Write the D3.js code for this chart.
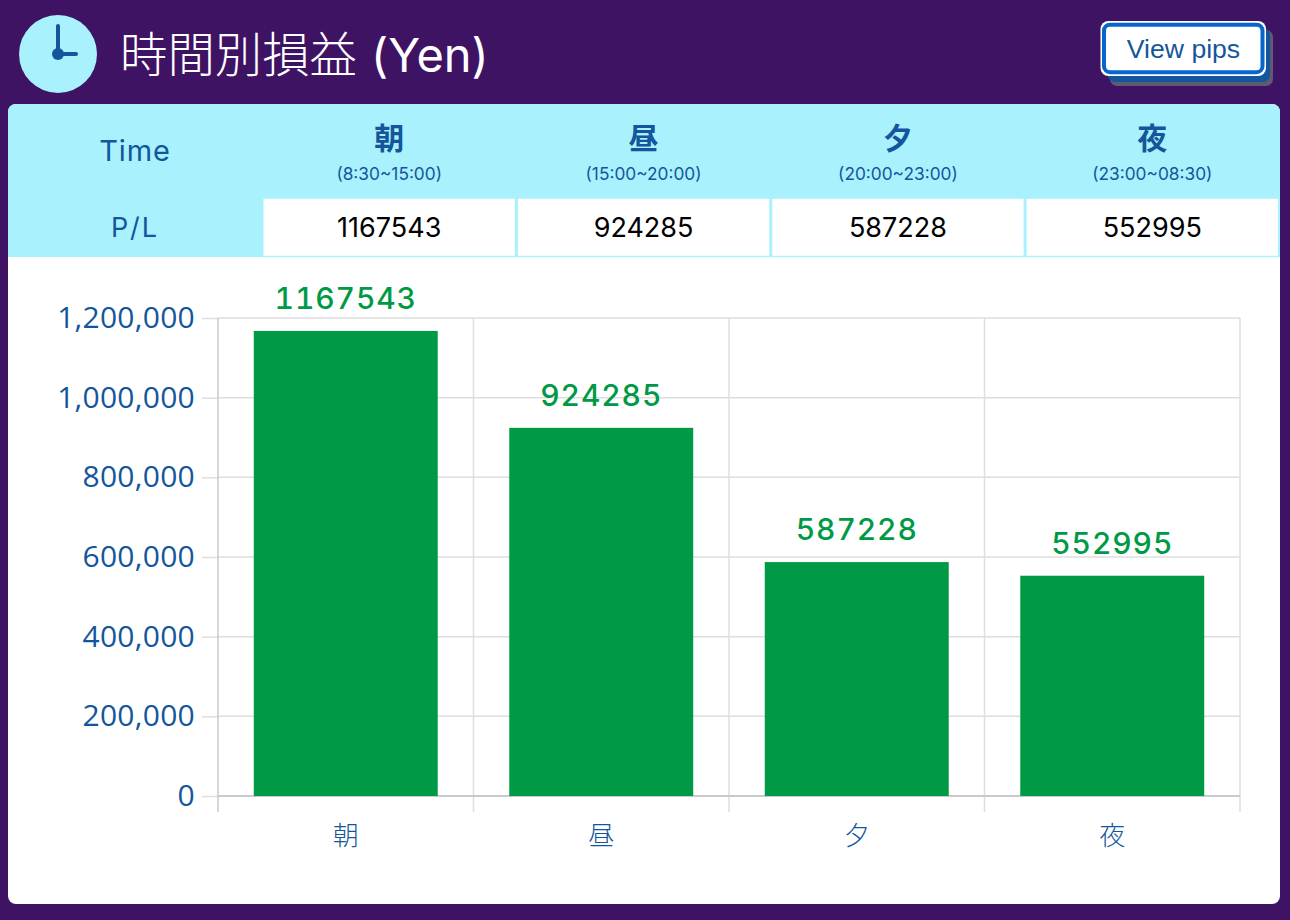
<!DOCTYPE html>
<html>
<head>
<meta charset="utf-8">
<title>時間別損益 (Yen)</title>
<script src="https://d3js.org/d3.v7.min.js"></script>
<style>
  html, body { margin: 0; padding: 0; background: #3f1364; }
  svg { display: block; font-family: Inter, "Noto Sans CJK JP", sans-serif; }
  .axis-y text { font-family: "Open Sans"; font-size: 30px; font-weight: 400; fill: #14569b; letter-spacing: 0.25px; }
  .axis-x text { font-size: 26px; font-weight: 300; fill: #14569b; font-family: "Noto Sans CJK JP"; }
  .value-label { font-size: 30px; font-weight: 500; fill: #009a46; text-anchor: middle; letter-spacing: 0.9px; font-feature-settings: "tnum"; }
</style>
</head>
<body>
<div id="chart"></div>
<script>
  var categories = ["朝", "昼", "夕", "夜"];
  var timeRanges = ["(8:30~15:00)", "(15:00~20:00)", "(20:00~23:00)", "(23:00~08:30)"];
  var values = [1167543, 924285, 587228, 552995];
  var yTicks = [0, 200000, 400000, 600000, 800000, 1000000, 1200000];

  var navy = "#14569b";
  var cyan = "#a8f1fd";
  var grid = "#dedede";
  var axisGrey = "#cacaca";

  var svg = d3.select("#chart").append("svg")
    .attr("width", 1290)
    .attr("height", 920);

  /* Card */
  svg.append("path")
    .attr("d", "M8 112a8 8 0 0 1 8-8H1272a8 8 0 0 1 8 8V896a8 8 0 0 1-8 8H16a8 8 0 0 1-8-8Z")
    .attr("fill", "#fff");
  svg.append("path")
    .attr("d", "M8 257V112a8 8 0 0 1 8-8H1272a8 8 0 0 1 8 8V257Z")
    .attr("fill", cyan);

  /* Header */
  svg.append("circle").attr("cx", 58).attr("cy", 54).attr("r", 39).attr("fill", cyan);
  svg.append("line").attr("x1", 58).attr("y1", 26).attr("x2", 58).attr("y2", 54)
    .attr("stroke", navy).attr("stroke-width", 4).attr("stroke-linecap", "round");
  svg.append("line").attr("x1", 58).attr("y1", 54).attr("x2", 76).attr("y2", 54)
    .attr("stroke", navy).attr("stroke-width", 4).attr("stroke-linecap", "round");
  svg.append("circle").attr("cx", 58).attr("cy", 54).attr("r", 6).attr("fill", navy);

  var title = svg.append("text")
    .attr("x", 120).attr("y", 72)
    .attr("fill", "#fff")
    .style("font-size", "47.4px")
    .style("font-weight", 300);
  title.append("tspan").style("font-family", "Noto Sans CJK JP").text("時間別損益");
  title.append("tspan").attr("x", 371).style("font-size", "47px").style("font-weight", 400).text("(Yen)");

  /* Button */
  svg.append("rect").attr("x", 1110).attr("y", 30).attr("width", 163).attr("height", 56).attr("rx", 7)
    .attr("fill", "#5d5a72");
  svg.append("rect").attr("x", 1108).attr("y", 28).attr("width", 162).attr("height", 54).attr("rx", 7)
    .attr("fill", navy);
  svg.append("rect").attr("x", 1100.5).attr("y", 21).attr("width", 165.5).attr("height", 55).attr("rx", 8)
    .attr("fill", "#fff");
  svg.append("rect").attr("x", 1104).attr("y", 24.7).attr("width", 158.5).attr("height", 47.5).attr("rx", 6)
    .attr("fill", "#fff").attr("stroke", "#0766cc").attr("stroke-width", 4);
  svg.append("text").attr("x", 1183.5).attr("y", 58)
    .attr("text-anchor", "middle").attr("fill", navy)
    .style("font-family", "Liberation Sans").style("font-size", "26.6px")
    .text("View pips");

  /* Table */
  var col = d3.scaleBand().domain(categories).range([262, 1279.5]);

  svg.append("text").attr("x", 135).attr("y", 161).attr("text-anchor", "middle")
    .attr("fill", navy).style("font-size", "29px").style("font-weight", 400).style("letter-spacing", "0.9px").text("Time");
  svg.append("text").attr("x", 135).attr("y", 237).attr("text-anchor", "middle")
    .attr("fill", navy).style("font-size", "27px").style("font-weight", 400).style("letter-spacing", "2px").text("P/L");

  var cols = svg.append("g").selectAll("g")
    .data(categories).enter().append("g");

  cols.append("text")
    .attr("x", d => col(d) + col.bandwidth() / 2)
    .attr("y", 149)
    .attr("text-anchor", "middle").attr("fill", navy)
    .style("font-family", "Noto Sans CJK JP").style("font-size", "30px").style("font-weight", 700)
    .text(d => d);

  cols.append("text")
    .attr("x", d => col(d) + col.bandwidth() / 2)
    .attr("y", 180)
    .attr("text-anchor", "middle").attr("fill", navy)
    .style("font-size", "17.3px").style("font-weight", 400)
    .text((d, i) => timeRanges[i]);

  cols.append("rect")
    .attr("x", d => col(d) + 0.75)
    .attr("y", 198)
    .attr("width", col.bandwidth() - 1.5)
    .attr("height", 58.5)
    .attr("fill", "#fff")
    .attr("stroke", cyan)
    .attr("stroke-width", 1.5);

  cols.append("text")
    .attr("x", d => col(d) + col.bandwidth() / 2)
    .attr("y", 237)
    .attr("text-anchor", "middle").attr("fill", "#000")
    .style("font-size", "27px").style("font-weight", 400)
    .text((d, i) => values[i]);

  /* Chart */
  var xScale = d3.scaleBand().domain(categories).range([218, 1240]).paddingInner(0.28).paddingOuter(0.14);
  var xGrid = d3.scaleBand().domain(categories).range([218, 1240]);
  var yScale = d3.scaleLinear().domain([0, 1200000]).range([796, 318]);

  var yAxis = d3.axisLeft(yScale).tickValues(yTicks).tickSize(16).tickPadding(7).tickFormat(d3.format(","));
  var gy = svg.append("g").attr("class", "axis-y").attr("transform", "translate(218,0)").call(yAxis);
  gy.select(".domain").remove();
  gy.selectAll("line").attr("stroke", grid).attr("stroke-width", 1.5);

  /* Grid */
  svg.append("g").selectAll("line")
    .data(yTicks.filter(d => d > 0)).enter().append("line")
    .attr("x1", 218).attr("x2", 1240)
    .attr("y1", d => yScale(d)).attr("y2", d => yScale(d))
    .attr("stroke", grid).attr("stroke-width", 1.5);

  var xEdges = categories.map(d => xGrid(d)).concat([1240]);
  svg.append("g").selectAll("line")
    .data(xEdges).enter().append("line")
    .attr("x1", d => d).attr("x2", d => d)
    .attr("y1", 318).attr("y2", 812)
    .attr("stroke", (d, i) => i === 0 ? axisGrey : grid)
    .attr("stroke-width", 1.5);

  svg.append("line").attr("x1", 218).attr("x2", 1240)
    .attr("y1", 796).attr("y2", 796)
    .attr("stroke", axisGrey).attr("stroke-width", 2);

  /* Bars */
  svg.append("g").selectAll("rect")
    .data(values).enter().append("rect")
    .attr("x", (d, i) => xScale(categories[i]))
    .attr("y", d => yScale(d))
    .attr("width", xScale.bandwidth())
    .attr("height", d => yScale(0) - yScale(d))
    .attr("fill", "#009a46");

  svg.append("g").selectAll("text")
    .data(values).enter().append("text")
    .attr("class", "value-label")
    .attr("x", (d, i) => xScale(categories[i]) + xScale.bandwidth() / 2)
    .attr("y", d => yScale(d) - 22)
    .text(d => d);

  var xAxis = d3.axisBottom(xGrid).tickSize(0).tickPadding(31);
  var gx = svg.append("g").attr("class", "axis-x").attr("transform", "translate(0,796)").call(xAxis);
  gx.select(".domain").remove();
</script>
</body>
</html>
